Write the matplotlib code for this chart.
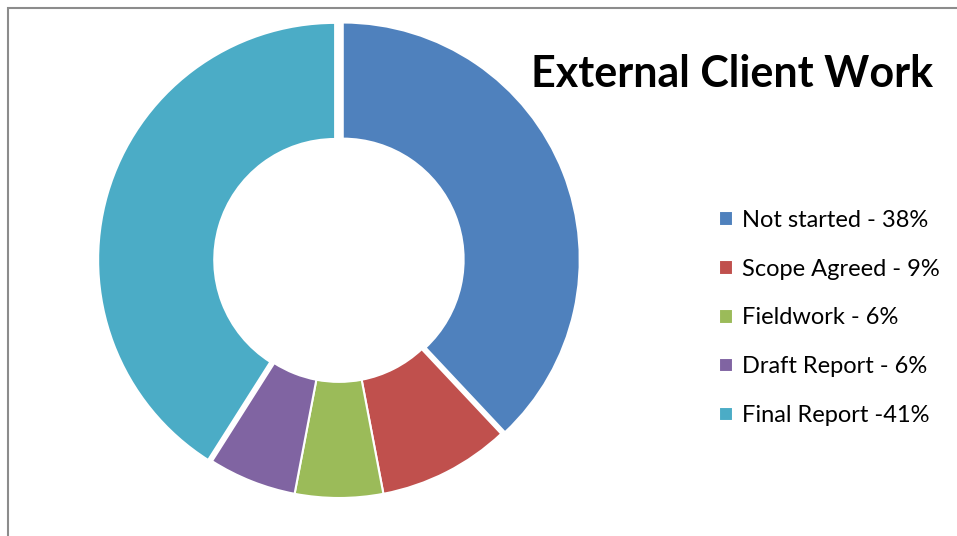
import matplotlib.pyplot as plt
from matplotlib.patches import Rectangle

# data
labels = ['Not started - 38%', 'Scope Agreed - 9%', 'Fieldwork - 6%',
          'Draft Report - 6%', 'Final Report -41%']
values = [38, 9, 6, 6, 41]
colors = ['#4F81BD', '#C0504D', '#9BBB59', '#8064A2', '#4BACC6']
explode = [0.017, 0, 0, 0, 0.017]

W, H = 957, 536
fig = plt.figure(figsize=(W/100, H/100), dpi=100)

# chart area border (right/bottom cut off like the screenshot)
fig.patches.append(Rectangle((8/W, -0.1), 1.2, 1 - 8/H + 0.1, transform=fig.transFigure,
                             fill=False, edgecolor='#8c8c8c', linewidth=1.5))

cx, cy, r = 339, 261, 237
ax = fig.add_axes([(cx - r)/W, (H - cy - r)/H, 2*r/W, 2*r/H])
wedges, _ = ax.pie(values, colors=colors, startangle=90, counterclock=False,
                   explode=explode, radius=1,
                   wedgeprops=dict(width=0.49, edgecolor='white', linewidth=1.5))
ax.set_xlim(-1, 1)
ax.set_ylim(-1, 1)
ax.set_aspect('equal')
ax.axis('off')

fig.text(732/W, 1 - 74/H, 'External Client Work', family='Lato', weight='bold',
         fontsize=31, ha='center', va='center')

leg = fig.legend(wedges, labels, loc='center left', bbox_to_anchor=(719/W, 1 - 318/H),
                 frameon=False, prop=dict(family='Lato', size=17),
                 handlelength=0.58, handleheight=0.58, handletextpad=0.4,
                 labelspacing=1.18, borderpad=0, borderaxespad=0)

fig.savefig('out.png', dpi=100)
